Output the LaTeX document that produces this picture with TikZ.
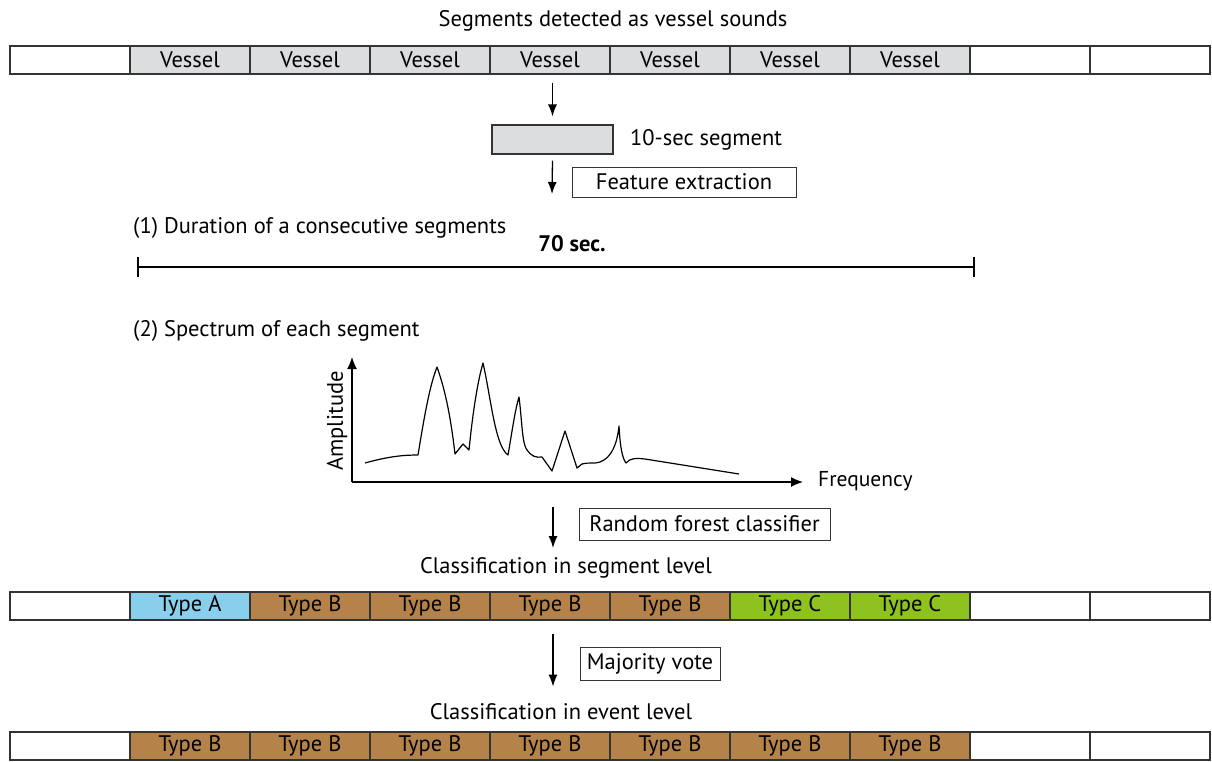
\documentclass[tikz,border=0pt]{standalone}
\usepackage{fontspec}
\setmainfont{PT Sans}
\usetikzlibrary{arrows.meta}
\definecolor{cellgray}{HTML}{DCDDDE}
\definecolor{typeA}{HTML}{87CFEA}
\definecolor{typeB}{HTML}{B5834A}
\definecolor{typeC}{HTML}{8DC21F}
\definecolor{edge}{HTML}{333333}
\tikzset{
  cell/.style={draw=edge, line width=1.1pt, minimum width=120pt, minimum height=28pt, inner sep=0pt, font=\fontsize{22.5}{26}\selectfont},
  lbl/.style={inner sep=0pt, font=\fontsize{22.5}{26}\selectfont},
  labbox/.style={draw=edge, line width=1pt, inner sep=0pt, font=\fontsize{22.5}{26}\selectfont},
  flow/.style={-{Latex[length=12pt,width=9pt]}, line width=1.3pt},
  axis/.style={-{Latex[length=12pt,width=10pt]}, line width=1.3pt},
}
\begin{document}
\begin{tikzpicture}[x=1pt,y=-1pt]
\useasboundingbox (0,0) rectangle (1212,761);
% title
\node[lbl] (title) at (613,21) {Segments detected as vessel sounds};
% row 1
\foreach \i/\f/\t in {1/white/,2/cellgray/Vessel,3/cellgray/Vessel,4/cellgray/Vessel,5/cellgray/Vessel,6/cellgray/Vessel,7/cellgray/Vessel,8/cellgray/Vessel,9/white/,10/white/}
  \node[cell, fill=\f] (ra\i) at ({10+120*(\i-1)+60},60) {\t};
% 10-sec segment
\node[draw=edge, line width=1.1pt, fill=cellgray, minimum width=121pt, minimum height=29pt, inner sep=0pt] (seg) at (552.5,139.5) {};
\node[lbl, anchor=west] (seglbl) at (630,140) {10-sec segment};
\draw[flow] ([yshift=-8pt]ra4.south -| seg.north) -- ([yshift=8pt]seg.north);
\node[labbox, minimum width=224pt, minimum height=30pt] (feat) at (684,182) {Feature extraction};
\coordinate (a2end) at (552,194);
\draw[flow] ([yshift=-6pt]seg.south) -- (a2end);
% duration
\node[lbl, anchor=west] (dur) at (133,228) {(1) Duration of a consecutive segments};
\node[lbl, font=\fontsize{22.5}{26}\selectfont\bfseries] (sec) at (572,244) {70 sec.};
\coordinate (dl) at (138,267);
\coordinate (dr) at (974,267);
\draw[line width=1.6pt] (dl) -- (dr);
\draw[line width=2.2pt] ([yshift=-10pt]dl) -- ([yshift=10pt]dl);
\draw[line width=2.2pt] ([yshift=-10pt]dr) -- ([yshift=10pt]dr);
% spectrum
\node[lbl, anchor=west] (spec) at (133,331) {(2) Spectrum of each segment};
\coordinate (org) at (352,482);
\coordinate (ytip) at (352,357);
\coordinate (xtip) at (803,482);
\draw[axis] (org) -- (ytip);
\draw[axis] (org) -- (xtip);
\node[lbl, rotate=90] (amp) at (337,421) {Amplitude};
\node[lbl, anchor=west, font=\fontsize{21.5}{26}\selectfont] (freq) at (818,481) {Frequency};
\draw[line width=1.2pt, line join=round]
  (365,463) .. controls (390,456) and (405,455) .. (418,455)
  .. controls (425,412) and (430,385) .. (437,367)
  .. controls (446,392) and (451,420) .. (455,454)
  -- (463,444) -- (469,450)
  .. controls (473,410) and (478,380) .. (483,363)
  .. controls (491,398) and (495,446) .. (508,455)
  .. controls (512,432) and (515,410) .. (519,397)
  .. controls (522,420) and (522,444) .. (527,450)
  .. controls (531,456) and (536,458) .. (542,457)
  -- (552,471) -- (565,431) -- (577,468) -- (582,464)
  .. controls (590,462) and (595,464) .. (600,462)
  .. controls (611,458) and (617,445) .. (619,426)
  .. controls (620,445) and (622,458) .. (626,463)
  .. controls (630,458) and (636,458) .. (645,459)
  -- (739,474);
% random forest
\coordinate (a3s) at (553,507);
\coordinate (a3e) at (553,548);
\draw[flow] (a3s) -- (a3e);
\node[labbox, minimum width=251pt, minimum height=32pt] (rf) at (704.5,524) {Random forest classifier};
\node[lbl] (csl) at (566,568) {Classification in segment level};
% row 2
\foreach \i/\f/\t in {1/white/,2/typeA/Type A,3/typeB/Type B,4/typeB/Type B,5/typeB/Type B,6/typeB/Type B,7/typeC/Type C,8/typeC/Type C,9/white/,10/white/}
  \node[cell, fill=\f] (rb\i) at ({10+120*(\i-1)+60},606) {\t};
% majority vote
\draw[flow] ([yshift=-13pt]rb4.south -| a3s) -- ([yshift=-66pt]rb4.south -| a3s);
\node[labbox, minimum width=140pt, minimum height=33pt] (mv) at (650,663.5) {Majority vote};
\node[lbl] (cel) at (561,712) {Classification in event level};
% row 3
\foreach \i/\f/\t in {1/white/,2/typeB/Type B,3/typeB/Type B,4/typeB/Type B,5/typeB/Type B,6/typeB/Type B,7/typeB/Type B,8/typeB/Type B,9/white/,10/white/}
  \node[cell, fill=\f] (rc\i) at ({10+120*(\i-1)+60},746) {\t};
\end{tikzpicture}
\end{document}
